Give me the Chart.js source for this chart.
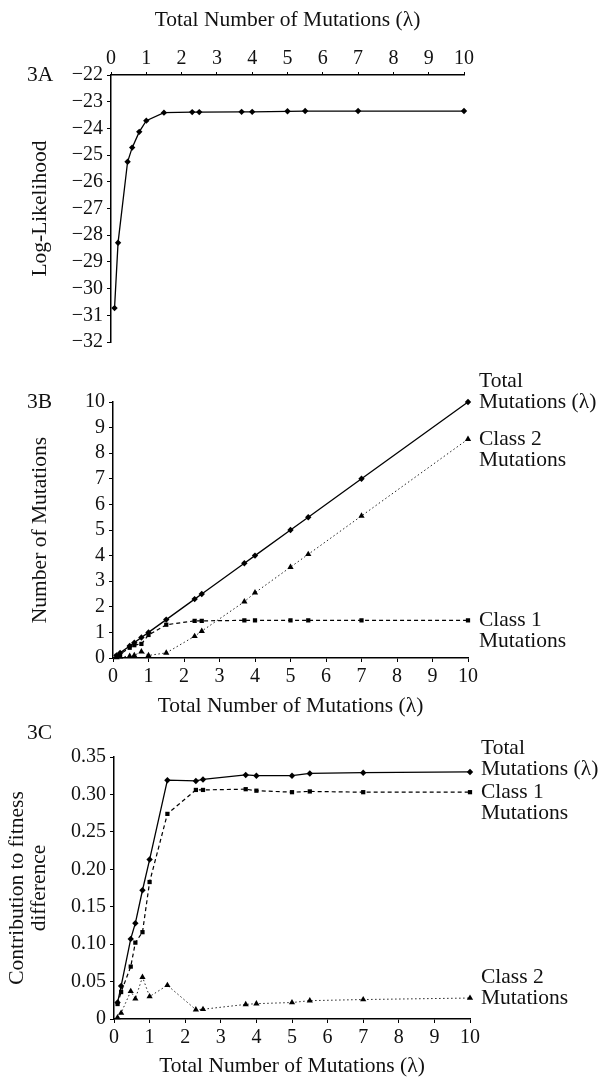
<!DOCTYPE html>
<html>
<head>
<meta charset="utf-8">
<title>Figure 3</title>
<script src="https://cdn.jsdelivr.net/npm/chart.js@4.4.1/dist/chart.umd.min.js"></script>
<style>
  body { margin: 0; background: #fff; }
  canvas { position: absolute; left: 0; }
</style>
</head>
<body>
<canvas id="chartA" width="604" height="360" style="top:0px"></canvas>
<canvas id="chartB" width="604" height="360" style="top:360px"></canvas>
<canvas id="chartC" width="604" height="359" style="top:720px"></canvas>
<script>
// x values: total number of mutations (lambda)
const lambdaValues = [0.1, 0.2, 0.47, 0.6, 0.8, 1.0, 1.5, 2.3, 2.5, 3.7, 4.0, 5.0, 5.5, 7.0, 10.0];

// 3A
const logLikelihood = [-30.73, -28.28, -25.25, -24.72, -24.13, -23.71, -23.41, -23.39, -23.39, -23.38, -23.38, -23.36, -23.35, -23.35, -23.35];

// 3B
const totalMutations = [0.1, 0.2, 0.47, 0.6, 0.8, 1.0, 1.5, 2.3, 2.5, 3.7, 4.0, 5.0, 5.5, 7.0, 10.0];
const class1Mutations = [0.08, 0.15, 0.40, 0.50, 0.55, 0.90, 1.30, 1.45, 1.45, 1.47, 1.47, 1.47, 1.47, 1.47, 1.47];
const class2Mutations = [0.02, 0.05, 0.07, 0.10, 0.25, 0.10, 0.20, 0.85, 1.05, 2.20, 2.55, 3.55, 4.05, 5.55, 8.55];

// 3C
const totalContribution = [0.022, 0.044, 0.107, 0.128, 0.172, 0.213, 0.319, 0.318, 0.320, 0.326, 0.325, 0.325, 0.328, 0.329, 0.330];
const class1Contribution = [0.020, 0.036, 0.070, 0.102, 0.116, 0.183, 0.274, 0.306, 0.306, 0.307, 0.305, 0.303, 0.304, 0.303, 0.303];
const class2Contribution = [0.002, 0.008, 0.037, 0.027, 0.056, 0.030, 0.045, 0.0125, 0.013, 0.0195, 0.0205, 0.022, 0.0245, 0.026, 0.028];

const FONT = '"Liberation Serif", "Times New Roman", serif';
const INK = '#111';
const tickFont = { family: FONT, size: 20 };

const points = (ys) => lambdaValues.map((x, i) => ({ x, y: ys[i] }));

// line styles for the three kinds of series
const styles = {
    total: { borderColor: '#000', borderWidth: 1.3, pointStyle: 'rectRot', pointRadius: 3.2 },
    class1: { borderColor: '#000', borderWidth: 1.2, borderDash: [4, 3], pointStyle: 'rect', pointRadius: 3 },
    class2: { borderColor: '#222', borderWidth: 1, borderDash: [1.5, 2.5], pointStyle: 'triangle', pointRadius: 3.6 }
};

// endLabel: text printed right of the last point, endAnchor: which line sits level with it
function series(ys, kind, endLabel, endAnchor, endShift) {
    return {
        data: points(ys),
        ...styles[kind],
        pointBackgroundColor: '#000',
        pointBorderColor: '#000',
        pointBorderWidth: 0,
        tension: 0,
        clip: false,
        endLabel,
        endAnchor: endAnchor || 0,
        endShift: endShift || 0
    };
}

function xAxis(position, height, titlePad, tickLen, tickPad) {
    return {
        type: 'linear',
        position,
        min: 0,
        max: 10,
        afterFit: (s) => { s.height = height; },
        border: { color: '#000', width: 1.5 },
        grid: { drawOnChartArea: false, tickLength: tickLen, color: '#000' },
        ticks: { stepSize: 1, font: tickFont, color: INK, padding: tickPad, maxRotation: 0, autoSkip: false },
        title: {
            display: true,
            text: 'Total Number of Mutations (\u03bb)',
            font: { family: FONT, size: 21.5, lineHeight: 1.0 },
            color: INK,
            padding: titlePad
        }
    };
}

function yAxis(min, max, step, width, title, fmt, titlePad, lineHeight) {
    return {
        type: 'linear',
        min,
        max,
        afterFit: (s) => { s.width = width; },
        border: { color: '#000', width: 1.5 },
        grid: { drawOnChartArea: false, tickLength: 4, color: '#000' },
        ticks: { stepSize: step, font: tickFont, color: INK, padding: 4, autoSkip: false, callback: fmt },
        title: {
            display: true,
            text: title,
            font: { family: FONT, size: 21.5, lineHeight: lineHeight || 1.0 },
            color: INK,
            padding: titlePad
        }
    };
}

// panel tag ("3A") plus the text labels at the right end of the lines
function labelPlugin(tag, tagShift) {
    return {
        id: 'sideLabels' + tag,
        afterDatasetsDraw(chart) {
            const { ctx, chartArea, scales } = chart;
            ctx.save();
            ctx.font = '21.5px ' + FONT;
            ctx.fillStyle = INK;
            ctx.textBaseline = 'middle';
            ctx.textAlign = 'left';
            chart.data.datasets.forEach((ds) => {
                if (!ds.endLabel) return;
                const last = ds.data[ds.data.length - 1];
                const y = scales.y.getPixelForValue(last.y) + ds.endShift;
                ds.endLabel.forEach((t, i) => {
                    ctx.fillText(t, chartArea.right + 11, y + (i - ds.endAnchor) * 21);
                });
            });
            ctx.fillText(tag, 27, chartArea.top + (tagShift || 0));
            ctx.restore();
        }
    };
}

const noLegend = { legend: { display: false }, tooltip: { enabled: false } };

// 3A - log-likelihood
new Chart(document.getElementById('chartA'), {
    type: 'line',
    data: { datasets: [series(logLikelihood, 'total')] },
    options: {
        responsive: false,
        animation: false,
        layout: { padding: { left: 0, right: 140, top: 0, bottom: 18 } },
        scales: {
            x: xAxis('top', 75, { top: 10, bottom: 0 }, 3, 1.5),
            y: yAxis(-32, -22, 1, 111, 'Log-Likelihood', (v) => '\u2212' + Math.abs(v), { top: 30, bottom: 0 })
        },
        plugins: noLegend
    },
    plugins: [labelPlugin('3A')]
});

// 3B - number of mutations
new Chart(document.getElementById('chartB'), {
    type: 'line',
    data: {
        datasets: [
            series(totalMutations, 'total', ['Total', 'Mutations (\u03bb)'], 1),
            series(class1Mutations, 'class1', ['Class 1', 'Mutations'], 0),
            series(class2Mutations, 'class2', ['Class 2', 'Mutations'], 0)
        ]
    },
    options: {
        responsive: false,
        animation: false,
        layout: { padding: { left: 0, right: 136, top: 42, bottom: 0 } },
        scales: {
            x: xAxis('bottom', 62, { top: 0, bottom: 3 }, 4, 3),
            y: yAxis(0, 10, 1, 113, 'Number of Mutations', (v) => String(v), { top: 30, bottom: 0 })
        },
        plugins: noLegend
    },
    plugins: [labelPlugin('3B')]
});

// 3C - contribution to fitness difference
new Chart(document.getElementById('chartC'), {
    type: 'line',
    data: {
        datasets: [
            series(totalContribution, 'total', ['Total', 'Mutations (\u03bb)'], 1, -3),
            series(class1Contribution, 'class1', ['Class 1', 'Mutations'], 0),
            series(class2Contribution, 'class2', ['Class 2', 'Mutations'], 1)
        ]
    },
    options: {
        responsive: false,
        animation: false,
        layout: { padding: { left: 0, right: 134, top: 37, bottom: 0 } },
        scales: {
            x: xAxis('bottom', 60, { top: 0, bottom: 2 }, 4, 3),
            y: yAxis(0, 0.35, 0.05, 114, ['Contribution to fitness', 'difference'],
                (v) => (Math.abs(v) < 1e-9 ? '0' : v.toFixed(2)), { top: 6.5, bottom: 0 }, 1.03)
        },
        plugins: noLegend
    },
    plugins: [labelPlugin('3C', -24)]
});
</script>
</body>
</html>
